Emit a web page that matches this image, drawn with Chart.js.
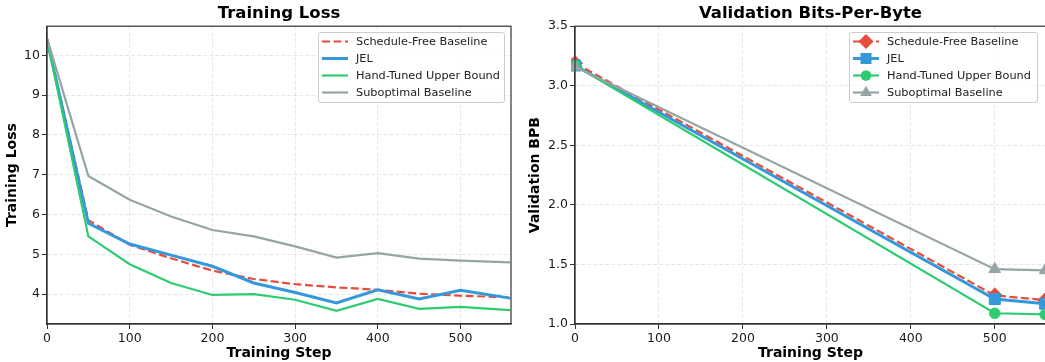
<!DOCTYPE html>
<html>
<head>
<meta charset="utf-8">
<script src="https://cdn.jsdelivr.net/npm/chart.js@4.4.1/dist/chart.umd.min.js"></script>
<style>
html, body { margin:0; padding:0; width:1045px; height:362px; overflow:hidden; background:#fff; }
.panel { position:absolute; top:0; height:362px; }
.leyenda { position:absolute; background:rgba(255,255,255,0.8); border:1px solid #cccccc; border-radius:3px;
  font-family:'DejaVu Sans'; font-size:11.3px; color:#222; box-sizing:border-box; }
.leyenda .fila { height:17px; display:flex; align-items:center; white-space:nowrap; }
.leyenda svg { flex:none; margin-left:3px; margin-right:8px; }
</style>
</head>
<body>
<div class="panel" style="left:0;width:520px"><canvas id="grafico-loss"></canvas></div>
<div class="panel" style="left:520px;width:535px"><canvas id="grafico-bpb"></canvas></div>
<div class="leyenda" id="leyenda-loss" style="left:318px;top:32px;width:187px;height:71px"></div>
<div class="leyenda" id="leyenda-bpb" style="left:849px;top:32px;width:189px;height:71px"></div>
<script>
// datos
const pasosEntrenamiento = [0, 50, 100, 150, 200, 250, 300, 350, 400, 450, 500, 560];
const lossScheduleFree = [10.4, 5.86, 5.24, 4.90, 4.59, 4.38, 4.25, 4.17, 4.11, 4.01, 3.96, 3.92];
const lossJEL          = [10.4, 5.78, 5.26, 4.98, 4.70, 4.28, 4.04, 3.78, 4.11, 3.88, 4.10, 3.90];
const lossHandTuned    = [10.4, 5.45, 4.75, 4.28, 3.98, 4.00, 3.86, 3.58, 3.88, 3.63, 3.68, 3.60];
const lossSuboptimal   = [10.43, 6.97, 6.37, 5.95, 5.61, 5.45, 5.20, 4.92, 5.03, 4.89, 4.84, 4.80];

const pasosValidacion = [0, 500, 560];
const bpbScheduleFree = [3.19, 1.24, 1.20];
const bpbJEL          = [3.17, 1.21, 1.17];
const bpbHandTuned    = [3.17, 1.09, 1.08];
const bpbSuboptimal   = [3.16, 1.46, 1.45];

const nombresSeries = ['Schedule-Free Baseline', 'JEL', 'Hand-Tuned Upper Bound', 'Suboptimal Baseline'];
const coloresSeries = ['#e74c3c', '#3498db', '#2ecc71', '#95a5a6'];
const grosorSeries = [2.2, 3, 2.2, 2.2];
const marcadores = ['rectRot', 'rect', 'circle', 'triangle'];
const radiosMarcador = [7.5, 7.8, 5.3, 6.75];

Chart.defaults.font.family = 'DejaVu Sans';
Chart.defaults.color = '#1a1a1a';

// marco completo alrededor del area (como los spines de matplotlib)
const marcoPlugin = {
    id: 'marco',
    afterDraw(chart) {
        const a = chart.chartArea;
        const ctx = chart.ctx;
        ctx.save();
        ctx.strokeStyle = '#333';
        ctx.lineWidth = 1.2;
        ctx.strokeRect(a.left, a.top, a.right - a.left, a.bottom - a.top);
        ctx.restore();
    }
};

function puntos(xs, ys) {
    return xs.map((x, i) => ({ x: x, y: ys[i] }));
}

function ejeX(maximo) {
    return {
        type: 'linear', min: 0, max: maximo,
        afterFit: s => { s.height = 38; },
        ticks: { stepSize: 100, includeBounds: false, padding: 2, font: { size: 12.5 }, maxRotation: 0 },
        grid: { color: 'rgba(0,0,0,0.12)', lineWidth: 0.8, tickLength: 5, tickColor: '#333', tickWidth: 1 },
        border: { color: '#333', width: 1.2, dash: [4, 2] },
        title: { display: true, text: 'Training Step', font: { size: 14, weight: 'bold' }, color: '#000', padding: { top: 0, bottom: 0 } }
    };
}

function ejeY(titulo, min, max, paso, ancho, padTitulo, formato) {
    return {
        min: min, max: max,
        afterFit: s => { s.width = ancho; },
        ticks: { stepSize: paso, includeBounds: false, padding: 2, font: { size: 12.5 }, callback: formato },
        grid: { color: 'rgba(0,0,0,0.12)', lineWidth: 0.8, tickLength: 5, tickColor: '#333', tickWidth: 1 },
        border: { color: '#333', width: 1.2, dash: [4, 2] },
        title: { display: true, text: titulo, font: { size: 14, weight: 'bold' }, color: '#000', padding: { top: padTitulo, bottom: 0 } }
    };
}

function opcionesTitulo(texto) {
    return { display: true, text: texto, fullSize: false, color: '#000',
             font: { size: 16.5, weight: 'bold' }, padding: { top: 4, bottom: 2.4 } };
}

// ---- Training Loss ----
const seriesLoss = [lossScheduleFree, lossJEL, lossHandTuned, lossSuboptimal];
new Chart(document.getElementById('grafico-loss').getContext('2d'), {
    type: 'line',
    data: {
        datasets: seriesLoss.map((serie, i) => ({
            label: nombresSeries[i],
            data: puntos(pasosEntrenamiento, serie),
            borderColor: coloresSeries[i],
            backgroundColor: coloresSeries[i],
            borderWidth: grosorSeries[i],
            borderDash: i === 0 ? [8, 3.5] : [],
            pointRadius: 0,
            tension: 0,
            order: 3 - i
        }))
    },
    options: {
        responsive: true, maintainAspectRatio: false, animation: false,
        layout: { padding: { left: 0, right: 9, top: 0, bottom: 0 } },
        scales: {
            x: ejeX(561),
            y: ejeY('Training Loss', 3.25, 10.73, 1, 47, 4, v => v)
        },
        plugins: { legend: { display: false }, tooltip: { enabled: false }, title: opcionesTitulo('Training Loss') }
    },
    plugins: [marcoPlugin]
});

// ---- Validation Bits-Per-Byte ----
const seriesBpb = [bpbScheduleFree, bpbJEL, bpbHandTuned, bpbSuboptimal];
new Chart(document.getElementById('grafico-bpb').getContext('2d'), {
    type: 'line',
    data: {
        datasets: seriesBpb.map((serie, i) => ({
            label: nombresSeries[i],
            data: puntos(pasosValidacion, serie),
            borderColor: coloresSeries[i],
            backgroundColor: coloresSeries[i],
            borderWidth: grosorSeries[i],
            borderDash: i === 0 ? [8, 3.5] : [],
            pointStyle: marcadores[i],
            pointRadius: radiosMarcador[i],
            pointBorderWidth: 1,
            pointBorderColor: coloresSeries[i],
            pointBackgroundColor: coloresSeries[i],
            tension: 0,
            clip: 4,
            order: 3 - i
        }))
    },
    options: {
        responsive: true, maintainAspectRatio: false, animation: false,
        layout: { padding: { left: 0, right: 9, top: 0, bottom: 0 } },
        scales: {
            x: ejeX(561),
            y: ejeY('Validation BPB', 1.0, 3.5, 0.5, 55, 7, v => Number(v).toFixed(1))
        },
        plugins: { legend: { display: false }, tooltip: { enabled: false }, title: opcionesTitulo('Validation Bits-Per-Byte') }
    },
    plugins: [marcoPlugin]
});

// leyendas en html dentro del area del grafico
function muestraSvg(i, conMarcador) {
    const c = coloresSeries[i];
    let s = '<svg width="26" height="17" viewBox="0 0 26 17">';
    s += '<line x1="0" y1="8.5" x2="26" y2="8.5" stroke="' + c + '" stroke-width="' + grosorSeries[i] + '"' +
         (i === 0 ? ' stroke-dasharray="8 3.5"' : '') + '/>';
    if (conMarcador) {
        const cx = 13, cy = 8.5, r = radiosMarcador[i];
        if (marcadores[i] === 'rectRot') {
            s += '<polygon points="' + cx + ',' + (cy - r) + ' ' + (cx + r) + ',' + cy + ' ' + cx + ',' + (cy + r) + ' ' + (cx - r) + ',' + cy + '" fill="' + c + '"/>';
        } else if (marcadores[i] === 'rect') {
            const h = r * Math.SQRT1_2;
            s += '<rect x="' + (cx - h) + '" y="' + (cy - h) + '" width="' + 2 * h + '" height="' + 2 * h + '" fill="' + c + '"/>';
        } else if (marcadores[i] === 'circle') {
            s += '<circle cx="' + cx + '" cy="' + cy + '" r="' + r + '" fill="' + c + '"/>';
        } else {
            const dx = r * Math.sqrt(3) / 2;
            s += '<polygon points="' + cx + ',' + (cy - r) + ' ' + (cx + dx) + ',' + (cy + r / 2) + ' ' + (cx - dx) + ',' + (cy + r / 2) + '" fill="' + c + '"/>';
        }
    }
    return s + '</svg>';
}

function construirLeyenda(idLeyenda, conMarcador) {
    const caja = document.getElementById(idLeyenda);
    nombresSeries.forEach((nombre, i) => {
        const fila = document.createElement('div');
        fila.className = 'fila';
        fila.innerHTML = muestraSvg(i, conMarcador) + '<span>' + nombre + '</span>';
        caja.appendChild(fila);
    });
}

construirLeyenda('leyenda-loss', false);
construirLeyenda('leyenda-bpb', true);
</script>
</body>
</html>
